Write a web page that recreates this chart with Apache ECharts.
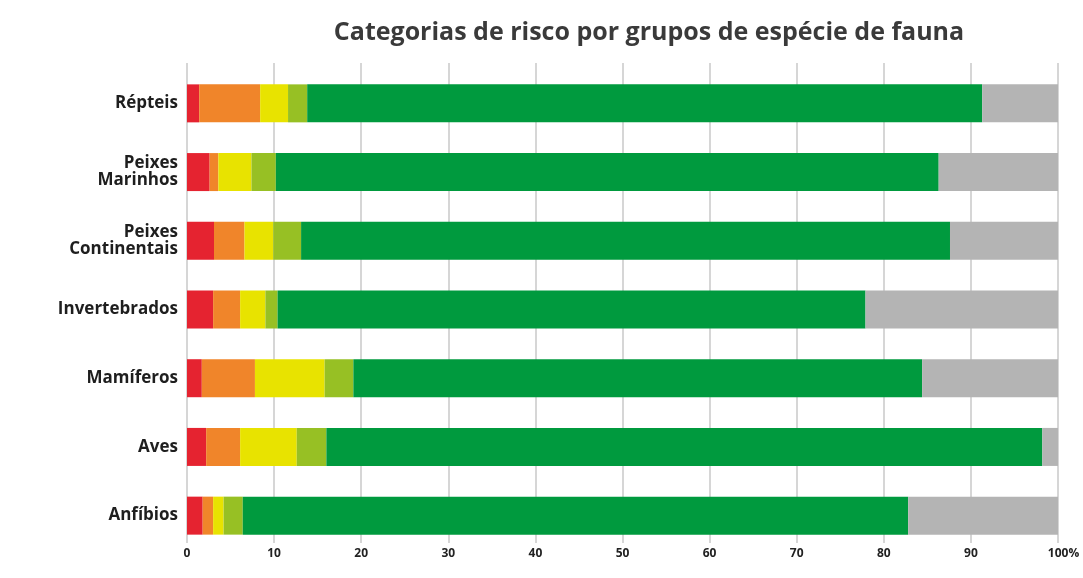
<!DOCTYPE html>
<html>
<head>
<meta charset="utf-8">
<script src="https://cdn.jsdelivr.net/npm/echarts@6/dist/echarts.min.js"></script>
<style>
html,body{margin:0;padding:0;background:#fff;}
#chart{width:1083px;height:578px;}
</style>
</head>
<body>
<div id="chart"></div>
<script>
const categories = ['Répteis', 'Peixes\nMarinhos', 'Peixes\nContinentais', 'Invertebrados', 'Mamíferos', 'Aves', 'Anfíbios'];
const redVals    = [1.4, 2.6, 3.1, 3.0, 1.7, 2.2, 1.8];
const orangeVals = [7.0, 1.0, 3.5, 3.1, 6.1, 3.9, 1.2];
const yellowVals = [3.2, 3.8, 3.3, 2.9, 8.0, 6.5, 1.2];
const lgreenVals = [2.2, 2.8, 3.2, 1.4, 3.3, 3.4, 2.2];
const greenVals  = [77.5, 76.1, 74.5, 67.5, 65.3, 82.2, 76.4];
const grayVals   = [8.7, 13.7, 12.4, 22.1, 15.6, 1.8, 17.2];
const xTicks = [0, 10, 20, 30, 40, 50, 60, 70, 80, 90, 100];

const seriesDefs = [
  {name: 'red', data: redVals, color: '#e52330'},
  {name: 'orange', data: orangeVals, color: '#f0852a'},
  {name: 'yellow', data: yellowVals, color: '#e8e300'},
  {name: 'lightgreen', data: lgreenVals, color: '#97c024'},
  {name: 'green', data: greenVals, color: '#009a3e'},
  {name: 'gray', data: grayVals, color: '#b4b4b4'}
];

const chart = echarts.init(document.getElementById('chart'));
chart.setOption({
  animation: false,
  title: {
    text: 'Categorias de risco por grupos de espécie de fauna',
    left: 644, top: 15, textAlign: 'center',
    textStyle: {fontFamily: 'Open Sans', fontWeight: 'bold', fontSize: 25, color: '#3a3a3a'}
  },
  grid: [
    {left: 187, right: 25, top: 69, height: 481},
    {left: 187, right: 25, top: 63, height: 480}
  ],
  xAxis: [
    {gridIndex: 0, type: 'value', min: 0, max: 100, interval: 10,
     axisLine: {show: false}, axisTick: {show: false}, axisLabel: {show: false}, splitLine: {show: false}},
    {gridIndex: 1, type: 'value', min: 0, max: 100, interval: 10,
     axisLine: {show: false}, axisTick: {show: false},
     splitLine: {show: true, lineStyle: {color: '#c8c8c8', width: 1.5}},
     axisLabel: {
       margin: 5,
       fontFamily: 'Open Sans', fontWeight: 'bold', fontSize: 12, color: '#222',
       formatter: function (v) {
         if (xTicks.indexOf(v) < 0) return '';
         return v === 100 ? '{p|}100%' : String(v);
       },
       rich: {p: {width: 11}}
     }}
  ],
  yAxis: [
    {gridIndex: 0, type: 'category', data: categories, inverse: true,
     axisLine: {show: false}, axisTick: {show: false},
     axisLabel: {margin: 9, fontFamily: 'Open Sans', fontWeight: 'bold', fontSize: 17, color: '#1e1e1e', lineHeight: 17, align: 'right'}},
    {gridIndex: 1, type: 'category', data: categories, inverse: true, show: false}
  ],
  series: seriesDefs.map(s => ({
    name: s.name, type: 'bar', stack: 'total',
    xAxisIndex: 0, yAxisIndex: 0,
    barWidth: 38,
    data: s.data,
    itemStyle: {color: s.color},
    z: 3
  }))
});
</script>
</body>
</html>
